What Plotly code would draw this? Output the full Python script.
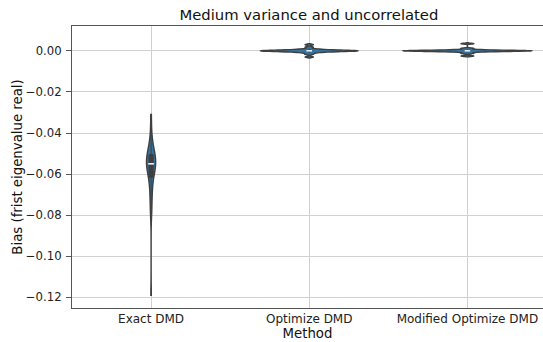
import numpy as np
import plotly.graph_objects as go

categories = ["Exact DMD", "Optimize DMD", "Modified Optimize DMD"]

exact_dmd = [-0.031, -0.038, -0.042, -0.045, -0.046, -0.047, -0.048, -0.049, -0.050,
             -0.050, -0.051, -0.051, -0.052, -0.052, -0.053, -0.053, -0.054, -0.054,
             -0.055, -0.055, -0.055, -0.056, -0.056, -0.057, -0.057, -0.058, -0.058,
             -0.059, -0.060, -0.061, -0.062, -0.063, -0.065, -0.067, -0.069, -0.071,
             -0.074, -0.077, -0.080, -0.119]
optimize_dmd = [0.0030, 0.0018, 0.0010, 0.0007, 0.0005, 0.0004, 0.0003, 0.0002, 0.0002,
                0.0001, 0.0001, 0.0, 0.0, 0.0, -0.0001, -0.0001, -0.0002, -0.0002,
                -0.0003, -0.0004, -0.0005, -0.0007, -0.0010, -0.0016, -0.0030]
modified_dmd = [0.0035, 0.0012, 0.0006, 0.0004, 0.0003, 0.0002, 0.0001, 0.0001, 0.0,
                0.0, 0.0, 0.0, -0.0001, -0.0001, -0.0002, -0.0003, -0.0004, -0.0006,
                -0.0012, -0.0025]

series = [exact_dmd, optimize_dmd, modified_dmd]
violin_widths = [0.058, 0.62, 0.82]
span_modes = ["hard", "soft", "soft"]

ytick_vals = [0.0, -0.02, -0.04, -0.06, -0.08, -0.10, -0.12]
ytick_text = ["0.00", "\u22120.02", "\u22120.04", "\u22120.06", "\u22120.08", "\u22120.10", "\u22120.12"]

FILL = "#3274a1"
EDGE = "#3f3f3f"
FONT = "DejaVu Sans"

fig = go.Figure()
for cat, vals, w, sm in zip(categories, series, violin_widths, span_modes):
    fig.add_trace(go.Violin(
        x=[cat] * len(vals), y=vals, width=w,
        fillcolor=FILL, opacity=1,
        line=dict(color=EDGE, width=1.4),
        points=False, spanmode=sm,
        box=dict(visible=True, width=0.45 if w < 0.1 else 0.04,
                 fillcolor=EDGE, line=dict(color=EDGE, width=1)),
        meanline=dict(visible=False),
        showlegend=False, hoverinfo="skip",
    ))
    fig.add_trace(go.Scatter(
        x=[cat], y=[float(np.median(vals))], mode="markers",
        marker=dict(symbol="line-ew", size=4, color="white",
                    line=dict(width=1.5, color="white")),
        showlegend=False, hoverinfo="skip",
    ))

fig.update_layout(
    width=543, height=342,
    margin=dict(l=72, r=0, t=26, b=34),
    paper_bgcolor="white", plot_bgcolor="white",
    violinmode="overlay",
    font=dict(family=FONT, size=12, color="#222"),
    title=dict(text="Medium variance and uncorrelated", font=dict(size=14.8, color="#111"),
               x=0.503, xref="paper", xanchor="center", y=1 - 15 / 342, yref="container",
               yanchor="middle"),
)
fig.update_xaxes(
    type="category", categoryorder="array", categoryarray=categories,
    range=[-0.5, 2.478], showgrid=True, gridcolor="#d0d0d0", gridwidth=1,
    showline=True, linecolor="#555", linewidth=1, mirror=True,
    ticks="", tickfont=dict(size=12, color="#222"),
    title=dict(text="Method", font=dict(size=13.3, color="#111"), standoff=1),
    automargin=False, zeroline=False,
)
fig.update_yaxes(
    range=[-0.1252, 0.0121], tickvals=ytick_vals, ticktext=ytick_text,
    showgrid=True, gridcolor="#d0d0d0", gridwidth=1,
    showline=True, linecolor="#555", linewidth=1,
    ticks="outside", ticklen=5, tickcolor="#555", tickfont=dict(size=11.7, color="#222"),
    ticklabelstandoff=2,
    title=dict(text="Bias (frist eigenvalue real)", font=dict(size=13.3, color="#111"), standoff=0),
    automargin=False, zeroline=False,
)

fig.write_html("out.html")
